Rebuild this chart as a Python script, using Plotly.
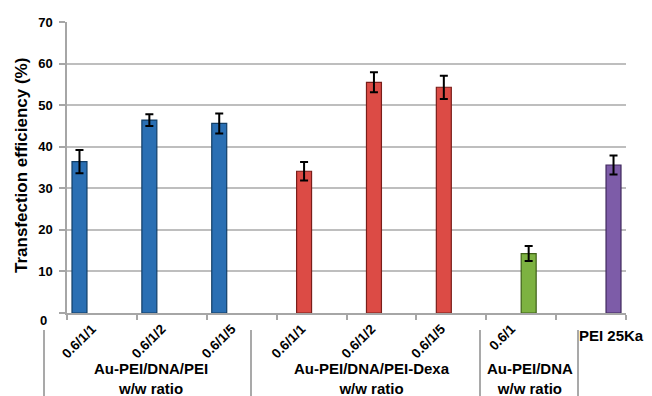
import plotly.graph_objects as go

slots = ["s1", "s2", "s3", "s4", "s5", "s6", "s7", "s8"]
tick_labels = ["0.6/1/1", "0.6/1/2", "0.6/1/5", "0.6/1/1", "0.6/1/2", "0.6/1/5", "0.6/1", ""]

series_names = ["Au-PEI/DNA/PEI", "Au-PEI/DNA/PEI-Dexa", "Au-PEI/DNA", "PEI 25Ka"]
series_values = [
    [36.4, 46.4, 45.6, None, None, None, None, None],
    [None, None, None, 34.1, 55.5, 54.3, None, None],
    [None, None, None, None, None, None, 14.3, None],
    [None, None, None, None, None, None, None, 35.6],
]
series_errors = [
    [2.8, 1.4, 2.4, 0, 0, 0, 0, 0],
    [0, 0, 0, 2.2, 2.4, 2.8, 0, 0],
    [0, 0, 0, 0, 0, 0, 1.8, 0],
    [0, 0, 0, 0, 0, 0, 0, 2.3],
]
colors = ["#2A6FB3", "#DC4B45", "#7DB241", "#7D5CA8"]
edge_colors = ["#123E66", "#7A1E1A", "#3F6018", "#40295E"]

y_ticks = [0, 10, 20, 30, 40, 50, 60, 70]
y_ticktext = ["", "10", "20", "30", "40", "50", "60", "70"]

group_labels = ["Au-PEI/DNA/PEI", "Au-PEI/DNA/PEI-Dexa", "Au-PEI/DNA"]
group_centers_px = [151, 372, 530]

# page body has an 8px margin; work in screenshot pixels and convert
OFF = 8
W, H = 652 - OFF, 396 - OFF
L, T = 67 - OFF, 22 - OFF
R = W - (626 - OFF)
B = H - (313 - OFF)
PW, PH = W - L - R, H - T - B

def px(x):
    return (x - OFF - L) / PW

def py(y):
    return (H - B - (y - OFF)) / PH

fig = go.Figure()
for name, vals, errs, c, ec in zip(series_names, series_values, series_errors, colors, edge_colors):
    fig.add_trace(go.Bar(
        x=slots, y=vals, name=name,
        marker=dict(color=c, line=dict(color=ec, width=1.2)),
        error_y=dict(type="data", array=errs, visible=True, color="black", thickness=2, width=4),
    ))

FONT = "Liberation Sans, Arial, sans-serif"

def bfont(size):
    return dict(size=size, color="black", family=FONT, weight="bold")

annotations = []
annotations.append(dict(text="Transfection efficiency (%)", x=px(21), y=py(166),
                        xref="paper", yref="paper", xanchor="center", yanchor="middle",
                        showarrow=False, textangle=-90, font=bfont(17)))
annotations.append(dict(text="0", x=px(49), y=py(320), xref="paper", yref="paper",
                        xanchor="right", yanchor="middle", showarrow=False, font=bfont(13)))
for g, cx in zip(group_labels, group_centers_px):
    annotations.append(dict(text=g + "<br>w/w ratio", x=px(cx), y=py(378), xref="paper", yref="paper",
                            xanchor="center", yanchor="middle", showarrow=False, font=bfont(15)))
annotations.append(dict(text="PEI 25Ka", x=px(577), y=py(335), xref="paper", yref="paper",
                        xanchor="left", yanchor="middle", showarrow=False, font=bfont(15)))

shapes = []
for sx in [44, 251, 480, 578]:
    shapes.append(dict(type="line", xref="paper", yref="paper", x0=px(sx), x1=px(sx),
                       y0=py(330), y1=py(400), line=dict(color="#8C8C8C", width=1.5)))

fig.update_layout(
    width=W, height=H,
    margin=dict(l=L, r=R, t=T, b=B, autoexpand=False),
    paper_bgcolor="white", plot_bgcolor="white",
    barmode="group", bargap=0.143, bargroupgap=0,
    showlegend=False,
    annotations=annotations, shapes=shapes,
    font=dict(family=FONT, color="black"),
)
fig.update_xaxes(
    type="category", tickmode="array", tickvals=slots, ticktext=tick_labels,
    tickangle=-45, tickson="boundaries", ticks="outside", ticklen=5, tickcolor="#A6A6A6",
    tickwidth=1.5, showline=True, linecolor="#A6A6A6", linewidth=1.5, showgrid=False,
    tickfont=bfont(13.5), ticklabelshift=-10, ticklabelstandoff=1, automargin=False,
)
fig.update_yaxes(
    range=[0, 70], tickmode="array", tickvals=y_ticks, ticktext=y_ticktext,
    ticks="outside", ticklen=6, tickcolor="#A6A6A6", tickwidth=1.5,
    showline=True, linecolor="#A6A6A6", linewidth=1.5,
    showgrid=True, gridcolor="#BEBEBE", gridwidth=1.5, zeroline=False,
    tickfont=bfont(13), ticklabelstandoff=4, automargin=False,
)

fig.write_html("out.html")
